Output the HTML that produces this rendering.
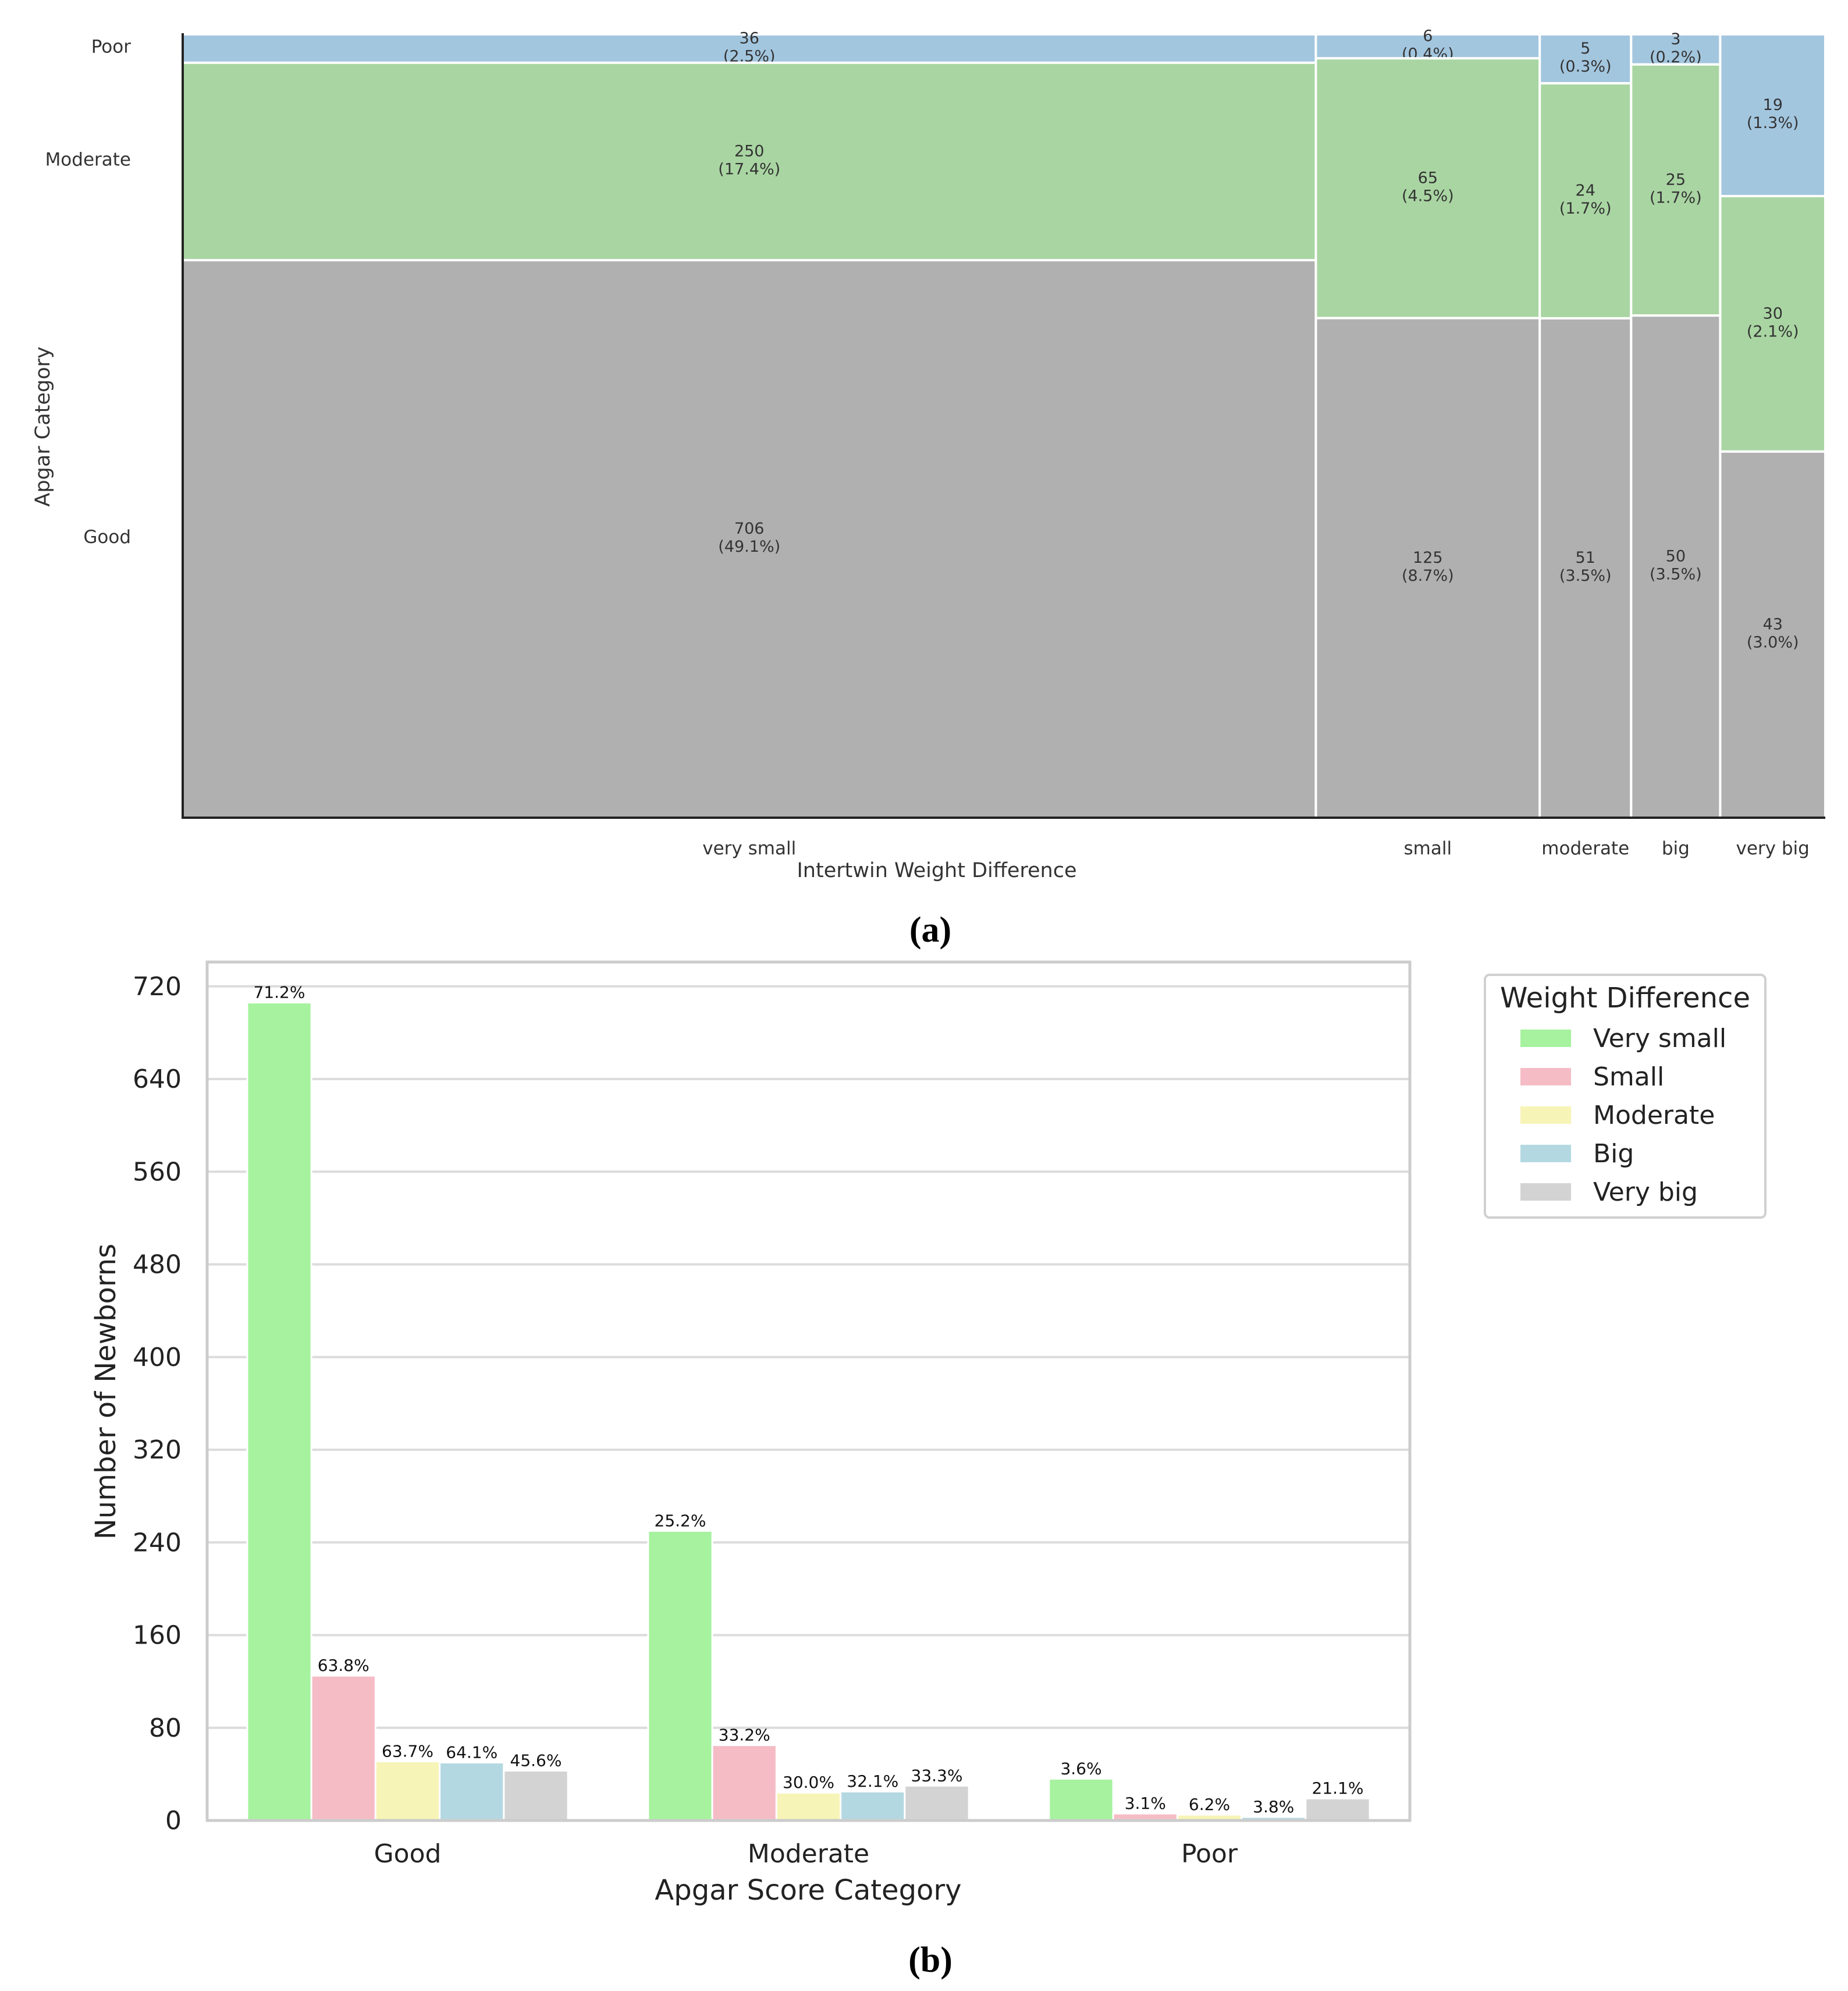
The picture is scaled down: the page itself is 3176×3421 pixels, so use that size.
<!DOCTYPE html>
<html><head><meta charset="utf-8"><style>
html,body{margin:0;padding:0;background:#fff;}
svg{display:block;font-family:"DejaVu Sans","Liberation Sans",sans-serif;}
</style></head><body>
<svg id="s" width="3176" height="3421" viewBox="0 0 3176 3421" xmlns="http://www.w3.org/2000/svg">
<g id="ga"></g>
<g id="gb"></g>
<text x="1599" y="1618" font-family="Liberation Serif,serif" font-weight="bold" font-size="62" text-anchor="middle">(a)</text>
<text x="1599" y="3388" font-family="Liberation Serif,serif" font-weight="bold" font-size="62" text-anchor="middle">(b)</text>
</svg>
<script>
// ---------- Mosaic data ----------
const weightCats = ["very small","small","moderate","big","very big"];
const apgarCats = ["Poor","Moderate","Good"];
const poorCounts = [36,6,5,3,19];
const moderateCounts = [250,65,24,25,30];
const goodCounts = [706,125,51,50,43];
const poorPct = ["2.5%","0.4%","0.3%","0.2%","1.3%"];
const moderatePct = ["17.4%","4.5%","1.7%","1.7%","2.1%"];
const goodPct = ["49.1%","8.7%","3.5%","3.5%","3.0%"];

// ---------- Bar data ----------
const barCats = ["Good","Moderate","Poor"];
const seriesNames = ["Very small","Small","Moderate","Big","Very big"];
const verySmallVals = [706,250,36];
const smallVals = [125,65,6];
const moderateVals = [51,24,5];
const bigVals = [50,25,3];
const veryBigVals = [43,30,19];
const verySmallLbl = ["71.2%","25.2%","3.6%"];
const smallLbl = ["63.8%","33.2%","3.1%"];
const moderateLbl = ["63.7%","30.0%","6.2%"];
const bigLbl = ["64.1%","32.1%","3.8%"];
const veryBigLbl = ["45.6%","33.3%","21.1%"];
const yTicks = [0,80,160,240,320,400,480,560,640,720];

const NS="http://www.w3.org/2000/svg";
function mk(parent,tag,attrs,text){const e=document.createElementNS(NS,tag);for(const k in attrs)e.setAttribute(k,attrs[k]);if(text!==undefined)e.textContent=text;parent.appendChild(e);return e;}

// ---------- Mosaic ----------
(function(){
  const g=document.getElementById('ga');
  const L=314,R=3137,T=59,B=1405;
  const colsData=[poorCounts,moderateCounts,goodCounts];
  const pcts=[poorPct,moderatePct,goodPct];
  const colors=["#a3c6df","#a9d5a2","#b0b0b0"];
  const totals=weightCats.map((_,i)=>poorCounts[i]+moderateCounts[i]+goodCounts[i]);
  const grand=totals.reduce((a,b)=>a+b,0);
  const xs=v=>L+(R-L)*v/grand;
  let cum=0;
  const firstMid=[];
  weightCats.forEach((w,i)=>{
    const x0=xs(cum),x1=xs(cum+totals[i]);cum+=totals[i];
    let yc=0;
    for(let j=0;j<3;j++){
      const v=colsData[j][i];
      const y0=T+(B-T)*yc/totals[i],y1=T+(B-T)*(yc+v)/totals[i];yc+=v;
      const r=mk(g,'rect',{x:x0,y:y0,width:x1-x0,height:y1-y0,fill:colors[j],stroke:"#fff","stroke-width":4});
      
      
      const cx=(x0+x1)/2,cy=(y0+y1)/2;
      if(i===0)firstMid.push(cy);
      const t1=mk(g,'text',{x:cx,y:cy-9,"font-size":27,fill:"#333","text-anchor":"middle"},String(v));
      
      
      const t2=mk(g,'text',{x:cx,y:cy+22,"font-size":27,fill:"#333","text-anchor":"middle"},"("+pcts[j][i]+")");
      
      
    }
    const xl=mk(g,'text',{x:(x0+x1)/2,y:1468,"font-size":31,fill:"#333","text-anchor":"middle"},w);
    
    
  });
  apgarCats.forEach((c,j)=>{
    const t=mk(g,'text',{x:225,y:firstMid[j]+7,"font-size":31,fill:"#333","text-anchor":"end"},c);
    
    
  });
  const ax=mk(g,'path',{d:`M${L},${T-2} V${B} H${R}`,fill:"none",stroke:"#222","stroke-width":4});
  
  
  const xt=mk(g,'text',{x:1610,y:1507,"font-size":35,fill:"#333","text-anchor":"middle"},"Intertwin Weight Difference");
  
  
  const yt=mk(g,'text',{x:0,y:0,"font-size":35,fill:"#333","text-anchor":"middle",transform:"translate(85,733) rotate(-90)"},"Apgar Category");
  
  
})();

// ---------- Bars ----------
(function(){
  const g=document.getElementById('gb');
  const L=356,R=2423,T=1653,B=3128;
  const ymax=741;
  const y=v=>B-(B-T)*v/ymax;
  const groupW=(R-L)/barCats.length;
  const xc=i=>L+groupW*(i+0.5);
  const barW=groupW*0.8/5;
  yTicks.forEach(t=>{
    const gl=mk(g,'line',{x1:L,x2:R,y1:y(t),y2:y(t),stroke:"#dcdcdc","stroke-width":4});
    
    
    const tl=mk(g,'text',{x:312,y:y(t)+15,"font-size":44,fill:"#222","text-anchor":"end"},String(t));
    
    
  });
  const series=[verySmallVals,smallVals,moderateVals,bigVals,veryBigVals];
  const labels=[verySmallLbl,smallLbl,moderateLbl,bigLbl,veryBigLbl];
  const colors=["#a6f29e","#f5bcc6","#f7f4b7","#b3d8e1","#d3d3d3"];
  series.forEach((vals,s)=>{
    vals.forEach((v,i)=>{
      const x0=xc(i)-groupW*0.4+barW*s;
      const r=mk(g,'rect',{x:x0,y:y(v),width:barW,height:B-y(v),fill:colors[s],stroke:"#fff","stroke-width":3});
      
      
      const t=mk(g,'text',{x:x0+barW/2,y:y(v)-8,"font-size":28,fill:"#111","text-anchor":"middle"},labels[s][i]);
      
      
    });
  });
  barCats.forEach((c,i)=>{
    const t=mk(g,'text',{x:xc(i),y:3200,"font-size":44,fill:"#222","text-anchor":"middle"},c);
    
    
  });
  const fr=mk(g,'rect',{x:L,y:T,width:R-L,height:B-T,fill:"none",stroke:"#cccccc","stroke-width":5});
  
  
  const xt=mk(g,'text',{x:1389,y:3264,"font-size":48,fill:"#222","text-anchor":"middle"},"Apgar Score Category");
  
  
  const yt=mk(g,'text',{x:0,y:0,"font-size":48,fill:"#222","text-anchor":"middle",transform:"translate(198,2391) rotate(-90)"},"Number of Newborns");
  
  
  // legend
  const lg=mk(g,'g',{});
  
  
  mk(lg,'rect',{x:2552,y:1675,width:482,height:417,rx:8,fill:"#fff",stroke:"#d0d0d0","stroke-width":4});
  const lt=mk(lg,'text',{x:2793,y:1731,"font-size":48,fill:"#222","text-anchor":"middle"},"Weight Difference");
  
  
  seriesNames.forEach((n,s)=>{
    const cy=1784+s*66;
    const e=mk(lg,'g',{});
    
    
    mk(e,'rect',{x:2613,y:cy-15,width:87,height:30,fill:colors[s]});
    mk(e,'text',{x:2738,y:cy+15,"font-size":44,fill:"#222"},n);
  });
})();
</script>
</body></html>
